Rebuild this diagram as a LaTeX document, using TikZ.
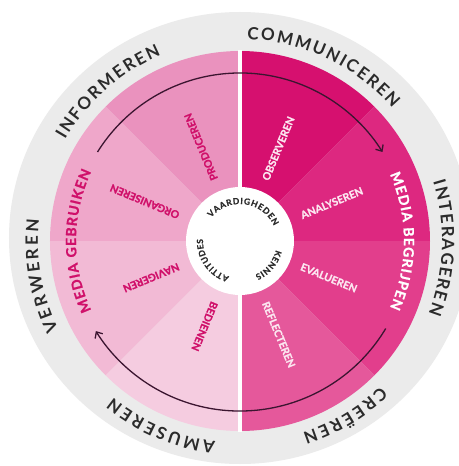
\documentclass[tikz,border=0pt]{standalone}
\usepackage{fontspec}
\setmainfont{Lato}
\newfontfamily\heavyfont{Lato}[FakeBold=1.2]
\newfontfamily\midfont{Lato}[FakeBold=0.5]
\usetikzlibrary{decorations.text,arrows.meta}
\definecolor{ringgrey}{HTML}{EBEBEB}
\definecolor{ringtext}{HTML}{2B2B2B}
\definecolor{secA}{HTML}{D6106F}
\definecolor{secB}{HTML}{DD2880}
\definecolor{secC}{HTML}{E23E8C}
\definecolor{secD}{HTML}{E5589B}
\definecolor{secE}{HTML}{EA92BE}
\definecolor{secF}{HTML}{EFA7CA}
\definecolor{secG}{HTML}{F2BAD5}
\definecolor{secH}{HTML}{F5CCE0}
\definecolor{magtext}{HTML}{D0106A}
\definecolor{lighttext}{HTML}{FCE6F0}
\definecolor{arrowcol}{HTML}{3B1530}
\newcommand\arclabel[5]{%
  \path[decorate, decoration={text along path, text={|#5|#4}, text align={fit to path}}]
    (#1:#3) arc[start angle=#1, end angle=#2, radius=#3];}
\newcommand\sectorfill[2]{%
  \fill[#2] (0,0) -- (#1:190) arc[start angle=#1, end angle=#1+45, radius=190] -- cycle;}
\tikzset{
  seclabel/.style={font=\heavyfont\bfseries\fontsize{10.5}{12}\selectfont, inner sep=0pt, anchor=west},
  flow/.style={draw=arrowcol, line width=1.3pt, -{Straight Barb[length=5pt,width=9pt]}}
}
\begin{document}
\begin{tikzpicture}[x=1pt,y=1pt]
\useasboundingbox (-240,-225) rectangle (218,241);
\fill[white] (-240,-225) rectangle (218,241);
\fill[ringgrey] (0,3) ellipse[x radius=231, y radius=226];
% sectors
\sectorfill{45}{secA}
\sectorfill{0}{secB}
\sectorfill{-45}{secC}
\sectorfill{-90}{secD}
\sectorfill{90}{secE}
\sectorfill{135}{secF}
\sectorfill{180}{secG}
\sectorfill{225}{secH}
\draw[white, line width=4pt] (0,-191) -- (0,191);
\fill[white] (0,0) circle[radius=54];
% arrows
\draw[flow] (148:168) arc[start angle=148, end angle=32, radius=168];
\draw[flow] (-31:170) arc[start angle=-31, end angle=-148, radius=170];
% outer ring labels
\def\ofont{\bfseries\fontsize{17}{20}\selectfont\color{ringtext}}
\arclabel{150}{113}{202}{INFORMEREN}{\ofont}
\arclabel{88}{41}{202}{COMMUNICEREN}{\ofont}
\arclabel{17}{-21}{202}{INTERAGEREN}{\ofont}
\arclabel{-46}{-72}{202}{CREËREN}{\ofont}
\arclabel{263}{231}{202}{AMUSEREN}{\ofont}
\arclabel{206}{174}{202}{VERWEREN}{\ofont}
% media labels
\arclabel{205}{155}{164}{MEDIA GEBRUIKEN}{\heavyfont\bfseries\fontsize{14}{16}\selectfont\color{magtext}}
\arclabel{24}{-24}{164}{MEDIA BEGRIJPEN}{\heavyfont\bfseries\fontsize{14}{16}\selectfont\color{white}}
% inner circle labels
\def\ifont{\midfont\bfseries\fontsize{8.5}{10}\selectfont\color{ringtext}}
\arclabel{141}{24}{37}{VAARDIGHEDEN}{\ifont}
\arclabel{-14}{-66}{37}{KENNIS}{\ifont}
\arclabel{253}{177}{37}{ATTITUDES}{\ifont}
% sector labels
\node[seclabel, text=lighttext, rotate=67.5] (obs) at (67.5:66) {OBSERVEREN};
\node[seclabel, text=lighttext, rotate=22.5] (ana) at (22.5:66) {ANALYSEREN};
\node[seclabel, text=lighttext, rotate=-22.5] (eva) at (-22.5:66) {EVALUEREN};
\node[seclabel, text=lighttext, rotate=-67.5] (ref) at (-67.5:66) {REFLECTEREN};
\node[seclabel, text=magtext, rotate=112.5] (pro) at (112.5:66) {PRODUCEREN};
\node[seclabel, text=magtext, rotate=157.5] (org) at (157.5:66) {ORGANISEREN};
\node[seclabel, text=magtext, rotate=202.5] (nav) at (202.5:66) {NAVIGEREN};
\node[seclabel, text=magtext, rotate=247.5] (bed) at (247.5:66) {BEDIENEN};
\end{tikzpicture}
\end{document}
